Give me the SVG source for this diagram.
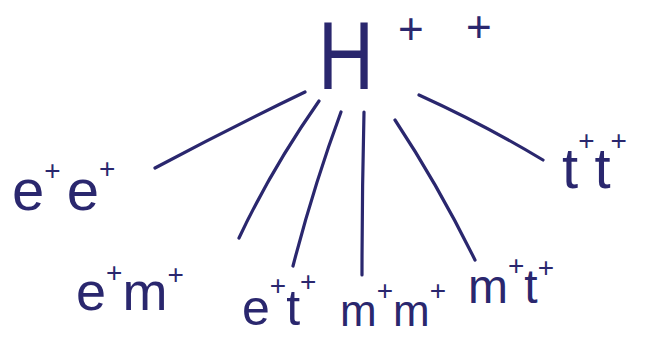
<svg xmlns="http://www.w3.org/2000/svg" width="654" height="339" viewBox="0 0 654 339">
<style>
.bg{fill:#ffffff}
.ln{fill:none;stroke:#2a276e;stroke-width:3.2;stroke-linecap:round}
.t{font-family:"Liberation Sans",Arial,sans-serif;fill:#2a276e}
.sup{font-size:28px}
</style>
<rect class="bg" x="0" y="0" width="654" height="339"/>
<g id="H">
<text class="t" x="318" y="89" font-size="96" textLength="56" lengthAdjust="spacingAndGlyphs">H</text>
<text class="t" x="398" y="44" font-size="44">+</text>
<text class="t" x="466" y="42" font-size="44">+</text>
</g>
<g id="connectors">
<path class="ln" d="M305,92 Q230,128 155,168"/>
<path class="ln" d="M319,101 Q272,168 239,238"/>
<path class="ln" d="M341,112 Q314,185 293,266"/>
<path class="ln" d="M364,112 Q362,195 362,275"/>
<path class="ln" d="M395,120 Q438,185 475,260"/>
<path class="ln" d="M419,95 Q485,125 543,160"/>
</g>
<g id="ee">
<text class="t" x="12" y="210" font-size="58">e<tspan class="sup" dy="-30">+</tspan><tspan dy="30" dx="6">e</tspan><tspan class="sup" dy="-32">+</tspan></text>
</g>
<g id="em">
<text class="t" x="76" y="310" font-size="54">e<tspan class="sup" dy="-28">+</tspan><tspan dy="28">m</tspan><tspan class="sup" dy="-26">+</tspan></text>
</g>
<g id="et">
<text class="t" x="242" y="325" font-size="50">e<tspan class="sup" dy="-30">+</tspan><tspan dy="30">t</tspan><tspan class="sup" dy="-34">+</tspan></text>
</g>
<g id="mm">
<text class="t" x="340" y="326" font-size="44">m<tspan class="sup" dy="-26">+</tspan><tspan dy="26">m</tspan><tspan class="sup" dy="-26">+</tspan></text>
</g>
<g id="mt">
<text class="t" x="468" y="303" font-size="48">m<tspan class="sup" dy="-28">+</tspan><tspan dy="28">t</tspan><tspan class="sup" dy="-26">+</tspan></text>
</g>
<g id="tt">
<text class="t" x="562" y="188" font-size="58">t<tspan class="sup" dy="-38">+</tspan><tspan dy="38">t</tspan><tspan class="sup" dy="-38">+</tspan></text>
</g>
</svg>
